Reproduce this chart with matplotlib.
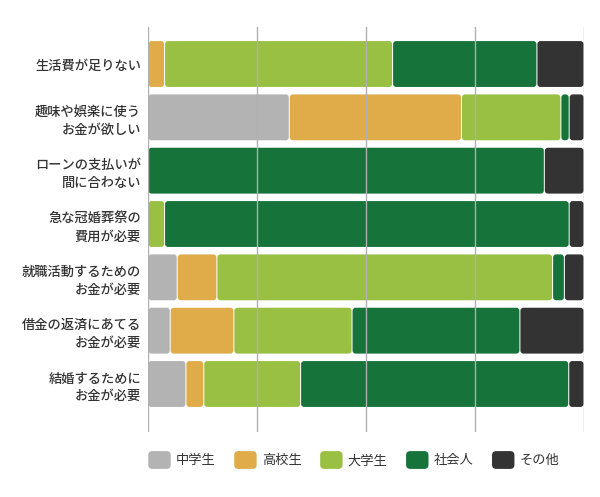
import matplotlib
matplotlib.use("Agg")
import matplotlib.pyplot as plt
from matplotlib.patches import FancyBboxPatch, Patch
from matplotlib.legend_handler import HandlerPatch
import numpy as np

plt.rcParams['font.family'] = ['Noto Sans CJK JP', 'DejaVu Sans']

categories = ["生活費が足りない", "趣味や娯楽に使う\nお金が欲しい", "ローンの支払いが\n間に合わない",
              "急な冠婚葬祭の\n費用が必要", "就職活動するための\nお金が必要", "借金の返済にあてる\nお金が必要",
              "結婚するために\nお金が必要"]
series_names = ["中学生", "高校生", "大学生", "社会人", "その他"]
chu = [0.0, 32.4, 0.0, 0.0, 6.7, 5.1, 8.7]
kou = [3.8, 39.5, 0.0, 0.0, 9.1, 14.6, 4.1]
dai = [52.3, 22.8, 0.0, 3.8, 77.0, 27.1, 22.2]
sha = [33.1, 1.9, 90.9, 92.8, 2.7, 38.5, 61.5]
other = [10.8, 3.4, 9.1, 3.4, 4.5, 14.7, 3.5]
series = [chu, kou, dai, sha, other]
colors = ["#b3b3b3", "#e0ac4a", "#99c043", "#16743b", "#333333"]

fig = plt.figure(figsize=(6, 4.97), dpi=100)
W, H = 600, 497
ax = fig.add_axes([148/W, 1-432/H, (584-148)/W, (432-27)/H])

y = np.arange(len(categories))
left = np.zeros(len(categories))
bar_h = 0.86
rx = 100/435*3.0
ry = 1/53.3*3.0
for vals, c, name in zip(series, colors, series_names):
    vals = np.array(vals)
    bars = ax.barh(y, vals, left=left, height=bar_h, color=c, label=name)
    for r in bars:
        r.set_visible(False)
        if r.get_width() <= 0:
            continue
        x0, y0, w, h = r.get_x(), r.get_y(), r.get_width(), r.get_height()
        gap = 100/435*0.5
        p = FancyBboxPatch((x0+gap, y0), max(w-2*gap, 0.01), h,
                           boxstyle=f"round,pad=0,rounding_size={rx}",
                           mutation_aspect=ry/rx, facecolor=c, edgecolor='none', zorder=2)
        ax.add_patch(p)
    left += vals

ax.set_xlim(0, 100)
ax.set_ylim(len(categories)-1+0.9, -0.694)
ax.set_xticks([0, 25, 50, 75, 100])
ax.xaxis.grid(True, color="#b0b0b0", linewidth=1, zorder=3)
ax.set_axisbelow(False)
ax.tick_params(axis='x', length=0, labelbottom=False)
ax.tick_params(axis='y', length=0, pad=5)
ax.set_yticks(y)
ax.set_yticklabels(categories, fontsize=9.5, color="#333333", linespacing=1.35,
                   fontweight='medium')
for s in ax.spines.values():
    s.set_visible(False)

class RoundHandler(HandlerPatch):
    def create_artists(self, legend, orig_handle, xdescent, ydescent, width, height, fontsize, trans):
        p = FancyBboxPatch((-xdescent, -ydescent), width, height,
                           boxstyle="round,pad=0,rounding_size=3",
                           facecolor=orig_handle.get_facecolor(), edgecolor='none', transform=trans)
        return [p]

handles = [Patch(facecolor=c, label=n) for c, n in zip(colors, series_names)]
leg = fig.legend(handles=handles, loc='center left', bbox_to_anchor=(143/W, 1-460/H), ncol=5,
                 frameon=False, fontsize=9.5, handlelength=1.7, handleheight=1.7,
                 handletextpad=0.4, columnspacing=1.4, borderaxespad=0,
                 handler_map={Patch: RoundHandler()})
for t in leg.get_texts():
    t.set_color("#333333")

fig.savefig("out.png", dpi=100)
